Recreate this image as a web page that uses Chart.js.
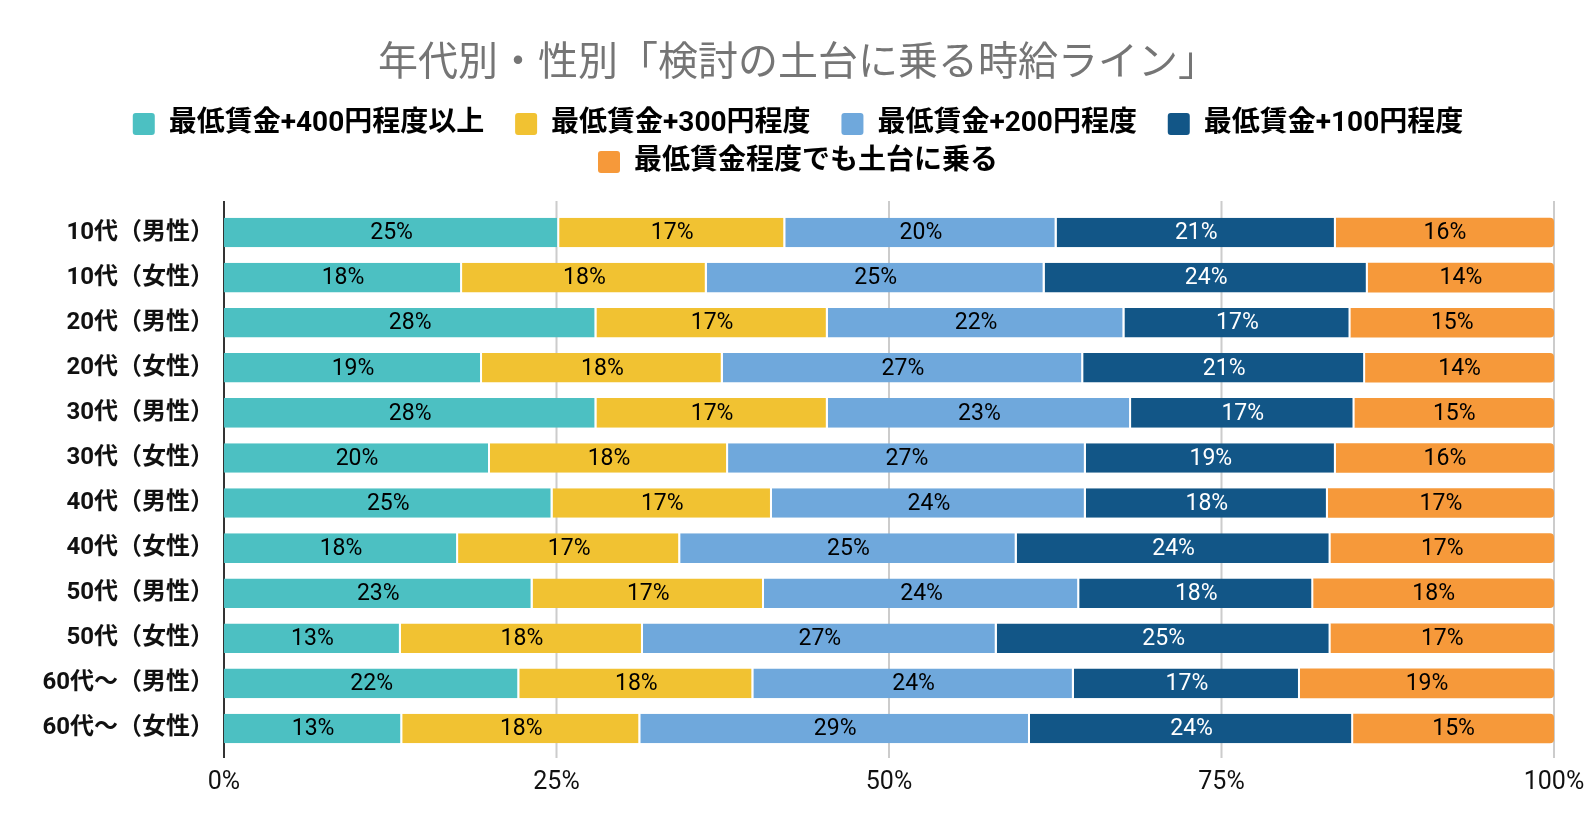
<!DOCTYPE html>
<html lang="ja">
<head>
<meta charset="UTF-8">
<title>年代別・性別「検討の土台に乗る時給ライン」</title>
<script src="https://cdn.jsdelivr.net/npm/chart.js"></script>
<style>
    body { margin: 0; background: #fff; }
    .chart-container { position: relative; width: 1596px; height: 836px; }
</style>
</head>
<body>
<div class="chart-container">
    <canvas id="chart"></canvas>
</div>
<script>
const FONT = "Roboto, 'Noto Sans CJK JP', sans-serif";

const categories = [
    '10代（男性）', '10代（女性）', '20代（男性）', '20代（女性）',
    '30代（男性）', '30代（女性）', '40代（男性）', '40代（女性）',
    '50代（男性）', '50代（女性）', '60代〜（男性）', '60代〜（女性）'
];
const seriesNames = [
    '最低賃金+400円程度以上', '最低賃金+300円程度', '最低賃金+200円程度',
    '最低賃金+100円程度', '最低賃金程度でも土台に乗る'
];
const plus400 = [25.2, 17.9, 28.0, 19.4, 28.0, 20.0, 24.7, 17.6, 23.2, 13.3, 22.2, 13.4];
const plus300 = [17.0, 18.4, 17.4, 18.1, 17.4, 17.9, 16.5, 16.7, 17.4, 18.2, 17.6, 17.9];
const plus200 = [20.4, 25.4, 22.3, 27.1, 22.8, 26.9, 23.6, 25.3, 23.7, 26.6, 24.1, 29.3];
const plus100 = [21.0, 24.3, 17.0, 21.2, 16.8, 18.8, 18.2, 23.6, 17.6, 25.1, 17.0, 24.3];
const minimum = [16.4, 14.0, 15.3, 14.2, 15.0, 16.4, 17.0, 16.8, 18.1, 16.8, 19.1, 15.1];
const xTicks = [0, 25, 50, 75, 100];

const colors = ['#4cc0c2', '#f1c232', '#6fa8dc', '#125687', '#f6993a'];
const labelColors = ['#000', '#000', '#000', '#fff', '#000'];
const values = [plus400, plus300, plus200, plus100, minimum];

// vertical grid lines, a bit taller than the plot area
const gridLines = {
    id: 'gridLines',
    beforeDatasetsDraw(chart) {
        const { ctx, chartArea, scales: { x } } = chart;
        ctx.save();
        ctx.lineWidth = 2;
        xTicks.forEach(v => {
            const px = x.getPixelForValue(v);
            ctx.strokeStyle = v === 0 ? '#333' : '#ccc';
            ctx.beginPath();
            ctx.moveTo(px, chartArea.top - 9);
            ctx.lineTo(px, chartArea.bottom + 7);
            ctx.stroke();
        });
        ctx.restore();
    }
};

// draw rounded % inside each bar segment
const barLabels = {
    id: 'barLabels',
    afterDatasetsDraw(chart) {
        const ctx = chart.ctx;
        ctx.save();
        ctx.font = '23px ' + FONT;
        ctx.textAlign = 'center';
        ctx.textBaseline = 'middle';
        chart.data.datasets.forEach((ds, i) => {
            chart.getDatasetMeta(i).data.forEach((bar, j) => {
                const p = bar.getProps(['x', 'y', 'base'], true);
                ctx.fillStyle = labelColors[i];
                ctx.fillText(Math.round(ds.data[j]) + '%', (p.x + p.base) / 2, p.y + 1);
            });
        });
        ctx.restore();
    }
};

// leave some room under the legend
const legendGap = {
    id: 'legendGap',
    beforeLayout(chart) {
        const lg = chart.legend;
        if (lg && !lg._gapped) {
            const fit = lg.fit;
            lg.fit = function () { fit.call(this); this.height += 24; };
            lg._gapped = true;
        }
    }
};

new Chart(document.getElementById('chart'), {
    type: 'bar',
    data: {
        labels: categories,
        datasets: values.map((v, i) => ({
            label: seriesNames[i],
            data: v,
            backgroundColor: colors[i],
            borderColor: '#fff',
            borderWidth: { left: 0, top: 0, bottom: 0, right: i < 4 ? 2 : 0 },
            borderSkipped: false,
            borderRadius: i === 4 ? { topRight: 4, bottomRight: 4 } : 0,
            barPercentage: 0.655,
            categoryPercentage: 1
        }))
    },
    options: {
        indexAxis: 'y',
        responsive: true,
        maintainAspectRatio: false,
        animation: false,
        layout: { padding: { left: 0, right: 0, top: 0, bottom: 21 } },
        scales: {
            x: {
                stacked: true,
                min: 0,
                max: 100,
                afterBuildTicks: s => { s.ticks = xTicks.map(v => ({ value: v })); },
                afterFit: s => { s.paddingRight = 42; },
                border: { display: false },
                grid: { display: false, drawTicks: false },
                ticks: {
                    padding: 17,
                    color: '#111',
                    font: { family: FONT, size: 25 },
                    callback: v => v + '%'
                }
            },
            y: {
                stacked: true,
                border: { display: false },
                grid: { display: false, drawTicks: false },
                afterFit: s => { s.width = 224; },
                ticks: {
                    padding: 10,
                    color: '#111',
                    font: { family: FONT, size: 24, weight: 'bold' }
                }
            }
        },
        plugins: {
            title: {
                display: true,
                text: '年代別・性別「検討の土台に乗る時給ライン」',
                color: '#757575',
                font: { family: FONT, size: 40, weight: 'normal' },
                padding: { top: 41, bottom: 11 }
            },
            legend: {
                position: 'top',
                labels: {
                    color: '#111',
                    font: { family: FONT, size: 28, weight: 'bold' },
                    boxWidth: 22,
                    boxHeight: 22,
                    padding: 10,
                    generateLabels: chart => chart.data.datasets.map((ds, i) => ({
                        // trailing spaces widen the gap to the next item in the row
                        text: i < 3 ? ds.label + '   ' : ds.label,
                        fillStyle: ds.backgroundColor,
                        strokeStyle: ds.backgroundColor,
                        lineWidth: 0,
                        datasetIndex: i,
                        borderRadius: 3
                    }))
                }
            },
            tooltip: { enabled: false }
        }
    },
    plugins: [gridLines, barLabels, legendGap]
});
</script>
</body>
</html>
